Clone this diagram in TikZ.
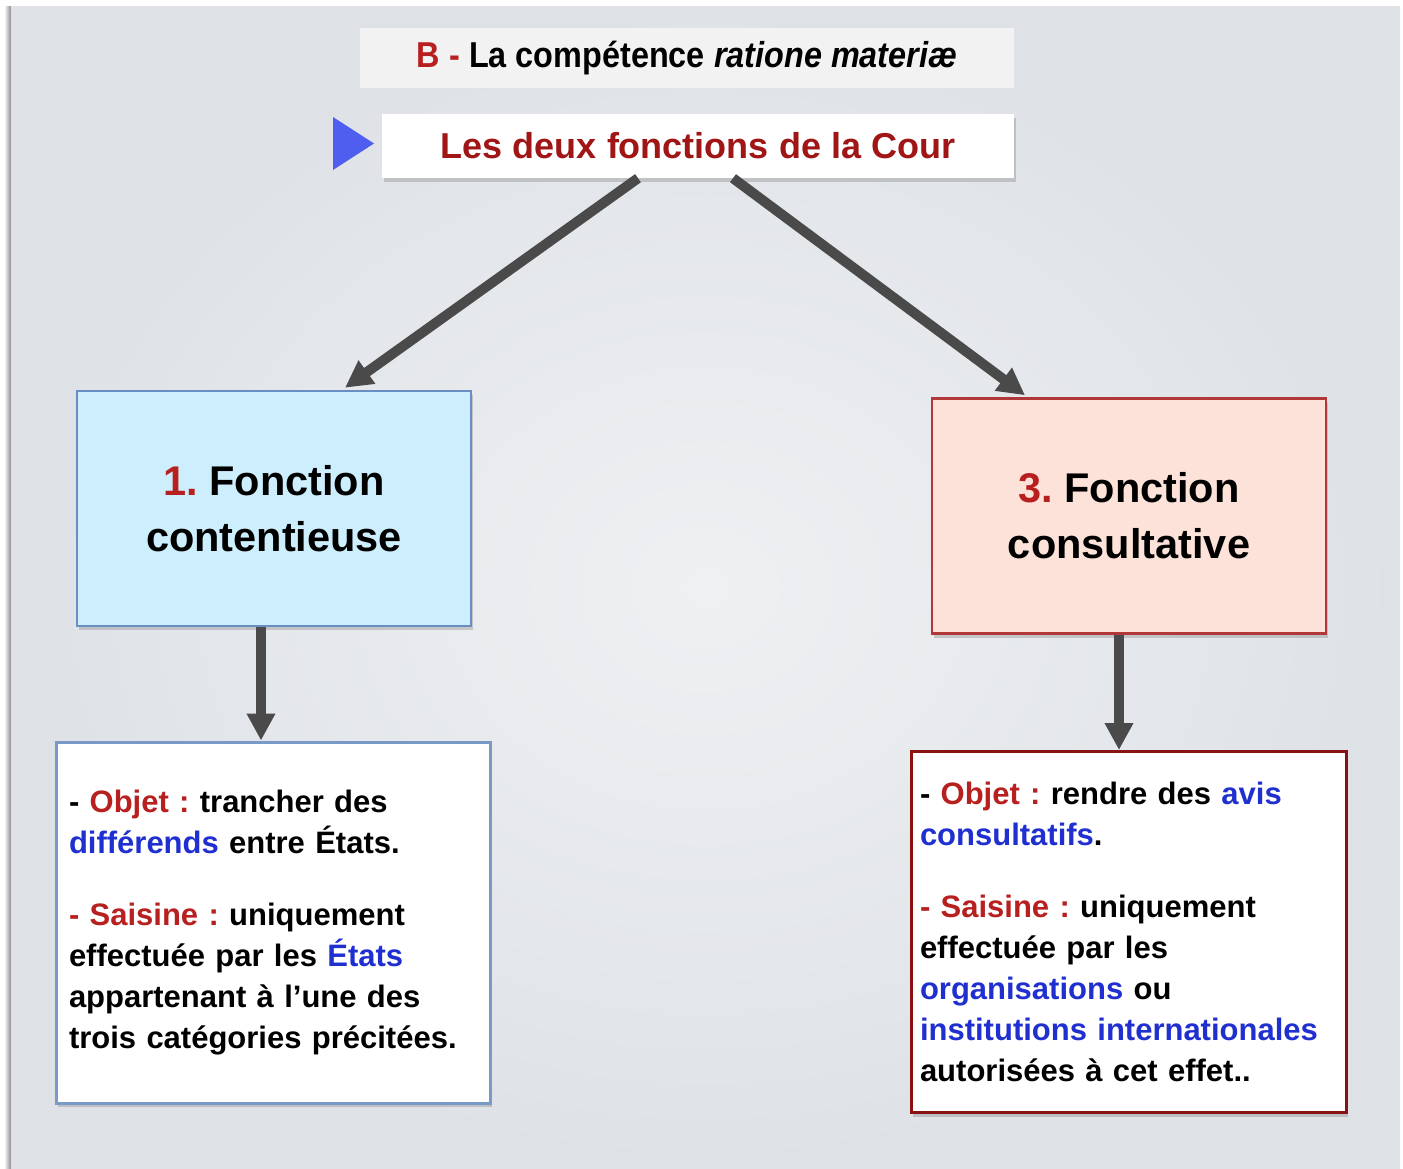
\documentclass[tikz,border=0pt]{standalone}
\usepackage{fontspec}
\setmainfont{Liberation Sans}
\usetikzlibrary{arrows.meta,calc,shadows}
\frenchspacing

\definecolor{rougeT}{HTML}{B82020}
\definecolor{bleuT}{HTML}{2030D0}
\definecolor{bordeaux}{HTML}{A01515}
\definecolor{grisfleche}{HTML}{4A4A4A}
\definecolor{bleuclair}{HTML}{CDEEFC}
\definecolor{bleubord}{HTML}{6A8EC0}
\definecolor{rose}{HTML}{FDE2D9}
\definecolor{rosebord}{HTML}{B03838}
\definecolor{fondclair}{HTML}{EFF0F2}
\definecolor{fondsombre}{HTML}{DEE2E7}

\newcommand{\rg}[1]{\textcolor{rougeT}{#1}}
\newcommand{\bl}[1]{\textcolor{bleuT}{#1}}

\begin{document}
\begin{tikzpicture}[x=1pt, y=-1pt,
    fleche/.style={line width=10pt, draw=grisfleche, -{Triangle[length=27pt, width=27pt]}},
    ombre/.style={drop shadow={shadow xshift=2pt, shadow yshift=-4pt, opacity=.35}},
    fonction/.style={ombre, line width=2.5pt, minimum width=394pt, minimum height=235pt, align=center,
        font=\bfseries\fontsize{41.5}{56}\selectfont},
    objet/.style={ombre, fill=white, line width=3pt, minimum height=361pt, align=left,
        font=\bfseries\fontsize{31}{41}\selectfont}]
    \useasboundingbox (0,0) rectangle (1403,1169);

    % Fond
    \shade[left color=white, right color=black!45] (4,7) rectangle (11,1169);
    \shade[inner color=fondclair, outer color=fondsombre] (11,7) rectangle (1400,1169);

    % Noeuds
    \node[fill=black!5, minimum width=654pt, minimum height=60pt, font=\bfseries\fontsize{36}{40}\selectfont]
        (titre) at (687,58) {\scalebox{.9}[1]{\rg{B -} La compétence \textit{ratione materiæ}}};
    \node[ombre, fill=white, minimum width=632pt, minimum height=64pt, font=\bfseries\fontsize{36}{40}\selectfont,
        text=bordeaux] (fonctions) at (698,146) {Les deux fonctions de la Cour};
    \fill[fill={rgb,255:red,80;green,94;blue,240}] (333,117) -- (374,143.5) -- (333,170) -- cycle;

    \node[fonction, fill=bleuclair, draw=bleubord] (contentieuse) at (274,508.5) {\rg{1.} Fonction\\ contentieuse};
    \node[fonction, fill=rose, draw=rosebord] (consultative) at (1129,516) {\rg{3.} Fonction\\ consultative};

    \node[objet, draw=bleubord!90, inner xsep=13pt, text width=408pt] (objetcont) at (273,922.5)
        {- \rg{Objet :} trancher des\\ \bl{différends} entre États.\\[31pt]
         \rg{- Saisine :} uniquement\\ effectuée par les \bl{États}\\ appartenant à l’une des\\ trois catégories précitées.};
    \node[objet, draw=bordeaux!85!black, inner xsep=9pt, text width=417pt] (objetcons) at (1128.5,932)
        {- \rg{Objet :} rendre des \bl{avis}\\ \bl{consultatifs}.\\[31pt]
         \rg{- Saisine :} uniquement\\ effectuée par les\\ \bl{organisations} ou\\ \bl{institutions internationales}\\ autorisées à cet effet..};

    % Flèches
    \draw[fleche] ($(fonctions.south)+(-60,0)$) -- ($(contentieuse.north)+(71,-2)$);
    \draw[fleche] ($(fonctions.south)+(35,0)$) -- ($(consultative.north)+(-104,-2)$);
    \draw[fleche] ($(contentieuse.south)+(-13,0)$) -- ($(objetcont.north)+(-12,0)$);
    \draw[fleche] ($(consultative.south)+(-10,0)$) -- ($(objetcons.north)+(-9.5,0)$);

\end{tikzpicture}
\end{document}
